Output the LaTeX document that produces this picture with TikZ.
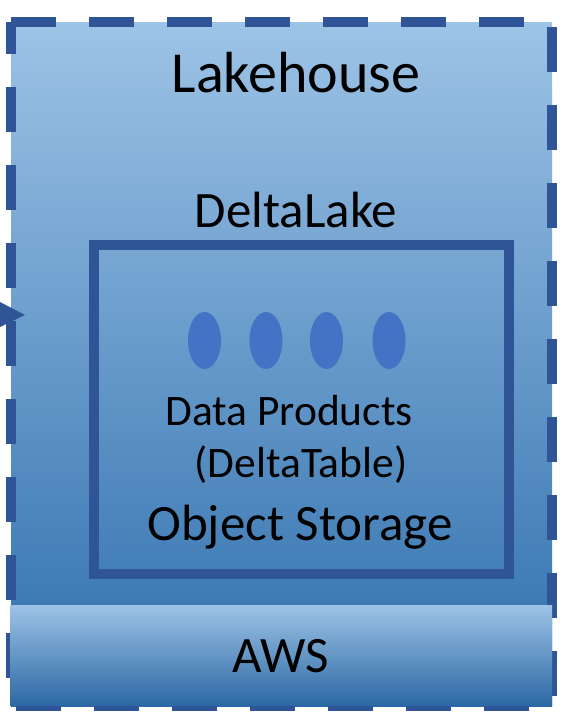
\documentclass[tikz,border=0pt]{standalone}
\usepackage{fontspec}
\setmainfont{Carlito}
\usetikzlibrary{shapes.geometric,positioning}

\definecolor{lakeborder}{RGB}{47,85,151}
\definecolor{lakelight}{RGB}{157,195,230}
\definecolor{lakedark}{RGB}{45,110,172}
\definecolor{awsmid}{RGB}{91,155,213}
\definecolor{awsdark}{RGB}{44,105,164}
\definecolor{dotblue}{RGB}{68,114,196}

\begin{document}
\begin{tikzpicture}[x=1pt,y=-1pt,
		lakeframe/.style={draw=lakeborder, line width=10pt, dash pattern=on 45pt off 33pt},
		storeframe/.style={draw=lakeborder, line width=10pt},
		tabledot/.style={ellipse, fill=dotblue, minimum width=33pt, minimum height=57pt, inner sep=0pt},
		lbl/.style={anchor=base, inner sep=0pt, text=black},
		big/.style={font=\fontsize{58}{70}\selectfont},
		mid/.style={font=\fontsize{51}{60}\selectfont},
		small/.style={font=\fontsize{43.5}{52}\selectfont}]
	
		\useasboundingbox (0,0) rectangle (572,724);
	
		\coordinate (lake-nw) at (11,22);
		\coordinate (lake-ne) at (552,22);
		\coordinate (lake-se) at (552,706);
		\coordinate (lake-sw) at (11,706);
		
		% lakehouse box
		\shade[top color=lakelight, bottom color=lakedark] (lake-nw) rectangle (lake-se);
		\draw[storeframe] (94,244.5) rectangle (508.5,573.5);
		\draw[lakeframe] (lake-nw) -- (lake-ne) -- (lake-se) -- (lake-sw) -- cycle;
		
		\fill[lakeborder] (0,302) -- (25,315) -- (0,327) -- cycle;
		
		\foreach \x [count=\i] in {204.5,266,326.5,389}
			\node[tabledot] (dot\i) at (\x,340.5) {};
		
		\node[lbl, big] (lakehouse) at (296,92) {Lakehouse};
		\node[lbl, mid] (deltalake) at (296,227) {DeltaLake};
		\node[lbl, small] (products) at (289,425) {Data Products};
		\node[lbl, small] (deltatable) at (301,477) {(DeltaTable)};
		\node[lbl, mid] (storage) at (300,540) {Object Storage};
		
		% cloud bar
		\shade[top color=lakelight, middle color=awsmid, bottom color=awsdark] (10,605) rectangle (552,705);
		\node[lbl, mid] (aws) at (281,672) {AWS};
	
	\end{tikzpicture}
\end{document}
